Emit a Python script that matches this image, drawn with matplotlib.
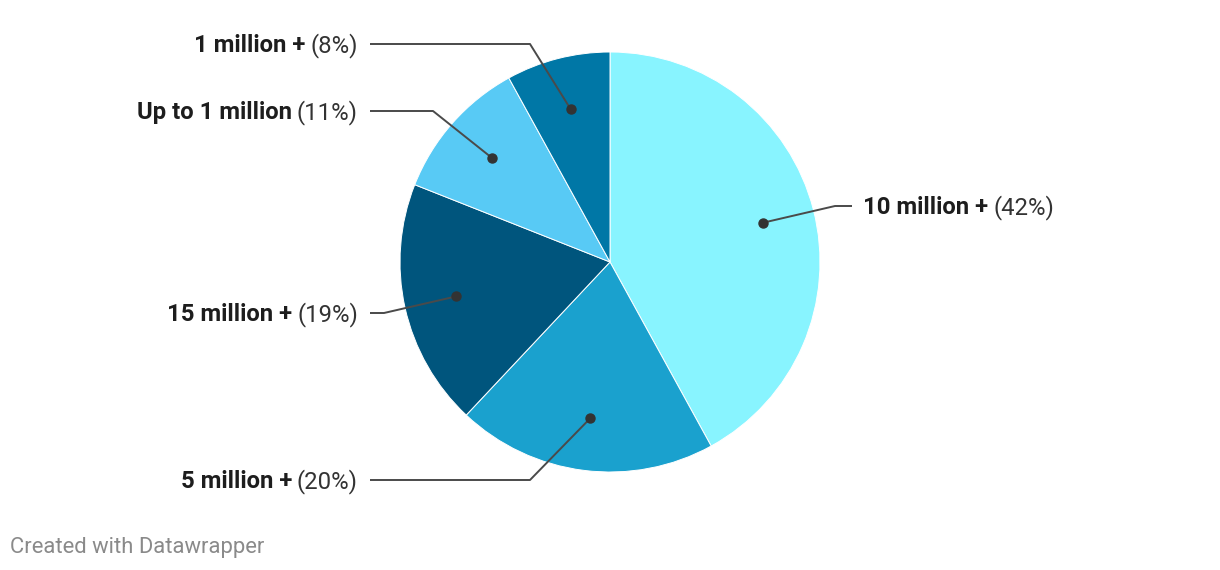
import numpy as np
import matplotlib
matplotlib.use('Agg')
import matplotlib.pyplot as plt

# data
categories = ['10 million +', '5 million +', '15 million +', 'Up to 1 million', '1 million +']
shares = [42, 20, 19, 11, 8]
colors = ['#88f4ff', '#1aa1ce', '#00557d', '#58caf5', '#0077a6']

# label layout in pixels: (side, text y, elbow x)
layout = [('right', 206, 835), ('left', 480, 530), ('left', 313, 384),
          ('left', 111, 433), ('left', 44, 530)]

W, H = 1220, 570
cx, cy, R = 610, 262, 210
fs = 17.2

plt.rcParams['font.family'] = ['Roboto', 'DejaVu Sans']

fig = plt.figure(figsize=(W / 100, H / 100), dpi=100)
ax = fig.add_axes([0, 0, 1, 1])


def fy(y):
    # pixel row -> data y
    return H - y


wedges, _ = ax.pie(shares, colors=colors, startangle=90, counterclock=False,
                   center=(cx, fy(cy)), radius=R, frame=True,
                   wedgeprops=dict(edgecolor='white', linewidth=0.7))
ax.set_xlim(0, W)
ax.set_ylim(0, H)
ax.set_aspect('equal')
ax.axis('off')

fig.canvas.draw()
renderer = fig.canvas.get_renderer()

line_col = '#4a4a4a'
for w, cat, pct, (side, ty, ex) in zip(wedges, categories, shares, layout):
    mid = np.deg2rad((w.theta1 + w.theta2) / 2)
    dx = cx + 0.75 * R * np.cos(mid)
    dy = fy(cy) + 0.75 * R * np.sin(mid)
    tyy = fy(ty + 1.5)  # text sits a touch below the leader line
    if side == 'left':
        sx = 370
        ax.plot([sx, ex, dx], [fy(ty), fy(ty), dy], color=line_col, lw=1.4,
                solid_capstyle='butt', zorder=5)
        t2 = ax.text(358, tyy, f'({pct}%)', ha='right', va='center',
                     fontsize=fs, color='#333333')
        bb = t2.get_window_extent(renderer)
        ax.text(bb.x0 - 5, tyy, cat, ha='right', va='center', fontsize=fs,
                fontweight='bold', color='#1d1d1d')
    else:
        sx = 852
        ax.plot([sx, ex, dx], [fy(ty), fy(ty), dy], color=line_col, lw=1.4,
                solid_capstyle='butt', zorder=5)
        t1 = ax.text(863, tyy, cat, ha='left', va='center', fontsize=fs,
                     fontweight='bold', color='#1d1d1d')
        bb = t1.get_window_extent(renderer)
        ax.text(bb.x1 + 5, tyy, f'({pct}%)', ha='left', va='center',
                fontsize=fs, color='#333333')
    ax.plot(dx, dy, 'o', color='#333333', ms=6.5, zorder=6)

ax.text(10, fy(548), 'Created with Datawrapper', ha='left', va='center',
        fontsize=15.8, color='#8a8a8a')

fig.savefig('out.png', dpi=100)
